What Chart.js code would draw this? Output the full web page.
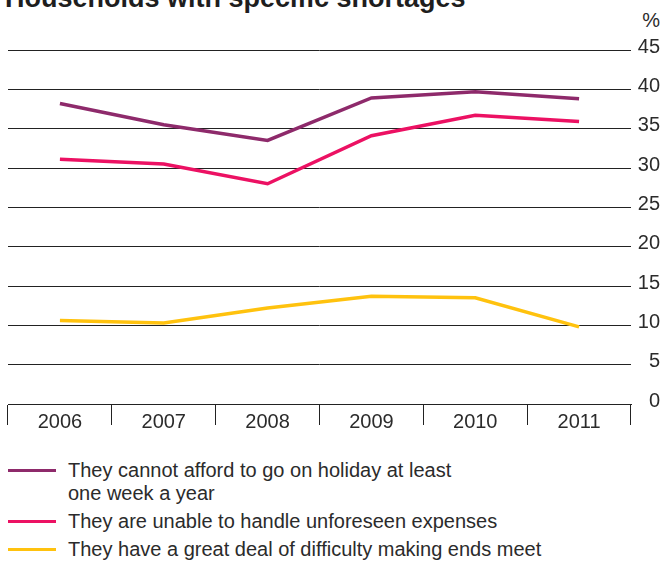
<!DOCTYPE html>
<html>
<head>
<meta charset="utf-8">
<script src="https://cdn.jsdelivr.net/npm/chart.js@4/dist/chart.umd.min.js"></script>
<style>
  html, body { margin: 0; padding: 0; background: #fff; }
  body { width: 662px; height: 563px; overflow: hidden; position: relative;
         font-family: "Liberation Sans", Arial, sans-serif; color: #2b2b2b; }
  .title { position: absolute; left: 5px; top: -15px; font-weight: bold; font-size: 27px;
           line-height: 27px; color: #1e1e1e; white-space: nowrap; }
  .unit { position: absolute; right: 2px; top: 9px; font-size: 20px; line-height: 22px; }
  .chart-box { position: absolute; left: 0; top: 0; }
  .legend { position: absolute; left: 8px; top: 459px; font-size: 20px; }
  .legend-row { position: relative; padding-left: 60px; line-height: 23px; margin-bottom: 5px; white-space: nowrap; }
  .legend-row .swatch { position: absolute; left: 0; top: 10px; width: 48px; height: 3px; }
</style>
</head>
<body>
<div class="title">Households with specific shortages</div>
<div class="unit">%</div>
<canvas class="chart-box" id="chart" width="662" height="440"></canvas>
<div class="legend" id="legend"></div>
<script>
// values (per cent of households)
const years = ['2006', '2007', '2008', '2009', '2010', '2011'];
const holiday = [38.2, 35.5, 33.5, 38.9, 39.7, 38.8];
const unforeseen = [31.1, 30.5, 28.0, 34.1, 36.7, 35.9];
const endsMeet = [10.6, 10.3, 12.2, 13.7, 13.5, 9.8];

const seriesLabels = [
  ['They cannot afford to go on holiday at least', 'one week a year'],
  ['They are unable to handle unforeseen expenses'],
  ['They have a great deal of difficulty making ends meet'],
];
const seriesColors = ['#8e2a6b', '#ec1163', '#ffc20e'];
const yTicks = { min: 0, max: 45, step: 5 };

const makeDataset = (idx, values) => ({
  label: seriesLabels[idx].join(' '),
  data: values,
  borderColor: seriesColors[idx],
  backgroundColor: seriesColors[idx],
  borderWidth: 3.5,
  tension: 0,
  pointRadius: 0,
  fill: false,
});

const data = {
  labels: years,
  datasets: [
    makeDataset(0, holiday),
    makeDataset(1, unforeseen),
    makeDataset(2, endsMeet),
  ],
};

const textColor = '#2b2b2b';
const lineColor = '#222';

const config = {
  type: 'line',
  data,
  options: {
    responsive: false,
    animation: false,
    devicePixelRatio: 1,
    layout: { padding: { top: 50, left: 8, right: 2, bottom: 0 } },
    plugins: {
      legend: { display: false },
      tooltip: { enabled: false },
    },
    scales: {
      x: {
        type: 'category',
        offset: true,
        grid: { offset: true, drawOnChartArea: false, tickLength: 21, color: lineColor, lineWidth: 1 },
        border: { display: true, color: lineColor, width: 1 },
        ticks: { padding: -15, color: textColor, font: { family: 'Liberation Sans', size: 20 }, maxRotation: 0 },
        afterFit: (scale) => { scale.height = 36; },
      },
      y: {
        position: 'right',
        min: yTicks.min,
        max: yTicks.max,
        grid: { drawTicks: false, color: lineColor, lineWidth: 1 },
        border: { display: false },
        ticks: {
          stepSize: yTicks.step,
          padding: 8,
          crossAlign: 'far',
          labelOffset: -3,
          color: textColor,
          font: { family: 'Liberation Sans', size: 20 },
        },
        afterFit: (scale) => { scale.width = 29; },
      },
    },
  },
};

new Chart(document.getElementById('chart'), config);

// legend built from the same series arrays
const legendBox = document.getElementById('legend');
seriesLabels.forEach((lines, idx) => {
  const row = document.createElement('div');
  row.setAttribute('class', 'legend-row');
  row.innerHTML = `<span class="swatch" style="background:${seriesColors[idx]}"></span>${lines.join('<br>')}`;
  legendBox.appendChild(row);
});
</script>
</body>
</html>
